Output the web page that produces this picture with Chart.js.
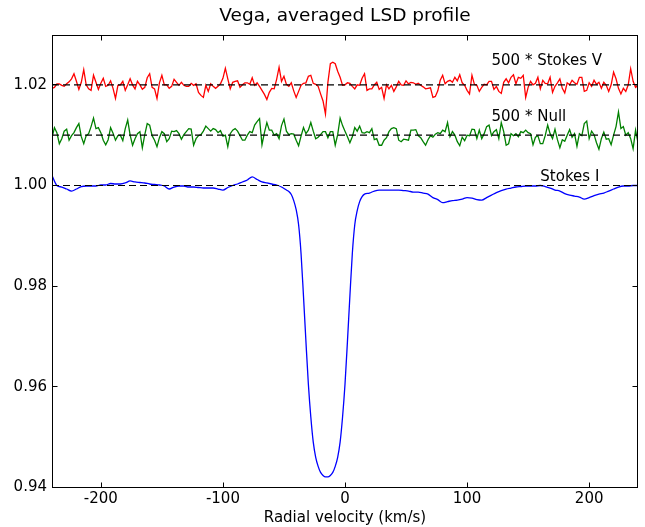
<!DOCTYPE html>
<html><head><meta charset="utf-8">
<script src="https://cdn.jsdelivr.net/npm/chart.js@4.4.0/dist/chart.umd.min.js"></script>
<style>html,body{margin:0;padding:0;background:#fff}canvas{display:block}</style>
</head><body>
<canvas id="c" width="645" height="527"></canvas>
<script>
// Radial velocity grid (km/s) for the polarimetric profiles
const velocity = [
-240,-238,-236,-234,-232,-230,-228,-226,-224,-222,
-220,-218,-216,-214,-212,-210,-208,-206,-204,-202,
-200,-198,-196,-194,-192,-190,-188,-186,-184,-182,
-180,-178,-176,-174,-172,-170,-168,-166,-164,-162,
-160,-158,-156,-154,-152,-150,-148,-146,-144,-142,
-140,-138,-136,-134,-132,-130,-128,-126,-124,-122,
-120,-118,-116,-114,-112,-110,-108,-106,-104,-102,
-100,-98,-96,-94,-92,-90,-88,-86,-84,-82,
-80,-78,-76,-74,-72,-70,-68,-66,-64,-62,
-60,-58,-56,-54,-52,-50,-48,-46,-44,-42,
-40,-38,-36,-34,-32,-30,-28,-26,-24,-22,
-20,-18,-16,-14,-12,-10,-8,-6,-4,-2,
0,2,4,6,8,10,12,14,16,18,
20,22,24,26,28,30,32,34,36,38,
40,42,44,46,48,50,52,54,56,58,
60,62,64,66,68,70,72,74,76,78,
80,82,84,86,88,90,92,94,96,98,
100,102,104,106,108,110,112,114,116,118,
120,122,124,126,128,130,132,134,136,138,
140,142,144,146,148,150,152,154,156,158,
160,162,164,166,168,170,172,174,176,178,
180,182,184,186,188,190,192,194,196,198,
200,202,204,206,208,210,212,214,216,218,
220,222,224,226,228,230,232,234,236,238,
240];

// 1.02 + 500 * Stokes V
const stokesV500 = [
1.0193,1.0195,1.0202,1.0202,1.0199,1.0197,1.0202,1.0206,1.0212,1.0222,
1.0207,1.0191,1.0205,1.0230,1.0200,1.0192,1.0189,1.0219,1.0205,1.0191,
1.0203,1.0213,1.0197,1.0199,1.0208,1.0193,1.0173,1.0199,1.0200,1.0207,
1.0189,1.0200,1.0212,1.0200,1.0192,1.0207,1.0200,1.0191,1.0195,1.0214,
1.0222,1.0195,1.0192,1.0173,1.0204,1.0219,1.0200,1.0200,1.0193,1.0197,
1.0211,1.0205,1.0199,1.0205,1.0199,1.0197,1.0197,1.0203,1.0199,1.0202,
1.0185,1.0179,1.0175,1.0199,1.0187,1.0202,1.0197,1.0193,1.0197,1.0202,
1.0213,1.0233,1.0212,1.0192,1.0205,1.0207,1.0208,1.0195,1.0200,1.0204,
1.0204,1.0201,1.0214,1.0199,1.0204,1.0197,1.0189,1.0181,1.0171,1.0185,
1.0193,1.0192,1.0211,1.0235,1.0207,1.0217,1.0201,1.0197,1.0204,1.0188,
1.0175,1.0187,1.0199,1.0203,1.0204,1.0217,1.0219,1.0203,1.0201,1.0197,
1.0182,1.0168,1.0142,1.0205,1.0242,1.0245,1.0242,1.0227,1.0215,1.0199,
1.0200,1.0204,1.0203,1.0197,1.0192,1.0200,1.0199,1.0213,1.0222,1.0189,
1.0192,1.0192,1.0200,1.0205,1.0191,1.0195,1.0173,1.0200,1.0192,1.0199,
1.0187,1.0196,1.0207,1.0200,1.0199,1.0208,1.0202,1.0205,1.0204,1.0201,
1.0203,1.0199,1.0196,1.0192,1.0193,1.0194,1.0175,1.0177,1.0188,1.0209,
1.0219,1.0202,1.0207,1.0209,1.0205,1.0215,1.0208,1.0220,1.0204,1.0199,
1.0189,1.0182,1.0219,1.0201,1.0199,1.0187,1.0195,1.0201,1.0200,1.0207,
1.0207,1.0191,1.0197,1.0187,1.0183,1.0205,1.0212,1.0204,1.0215,1.0220,
1.0202,1.0215,1.0213,1.0219,1.0175,1.0195,1.0207,1.0200,1.0203,1.0215,
1.0192,1.0209,1.0203,1.0202,1.0215,1.0185,1.0197,1.0204,1.0212,1.0193,
1.0184,1.0204,1.0200,1.0209,1.0204,1.0201,1.0215,1.0215,1.0187,1.0189,
1.0204,1.0197,1.0209,1.0201,1.0205,1.0193,1.0205,1.0199,1.0187,1.0200,
1.0225,1.0212,1.0193,1.0182,1.0193,1.0187,1.0200,1.0232,1.0207,1.0195,
1.0199];

// 1.01 + 500 * Null
const null500 = [
1.0095,1.0115,1.0105,1.0083,1.0093,1.0108,1.0112,1.0090,1.0099,1.0105,
1.0115,1.0123,1.0097,1.0083,1.0099,1.0103,1.0117,1.0134,1.0113,1.0115,
1.0105,1.0090,1.0081,1.0091,1.0115,1.0104,1.0090,1.0099,1.0100,1.0089,
1.0113,1.0130,1.0100,1.0080,1.0093,1.0103,1.0107,1.0075,1.0101,1.0123,
1.0120,1.0099,1.0090,1.0077,1.0095,1.0107,1.0103,1.0087,1.0093,1.0108,
1.0107,1.0109,1.0103,1.0092,1.0101,1.0107,1.0113,1.0112,1.0080,1.0093,
1.0099,1.0101,1.0108,1.0118,1.0113,1.0108,1.0113,1.0111,1.0105,1.0109,
1.0098,1.0100,1.0077,1.0103,1.0110,1.0113,1.0108,1.0099,1.0090,1.0090,
1.0100,1.0107,1.0105,1.0120,1.0127,1.0133,1.0081,1.0105,1.0125,1.0110,
1.0110,1.0100,1.0103,1.0093,1.0119,1.0132,1.0108,1.0101,1.0103,1.0102,
1.0090,1.0079,1.0098,1.0115,1.0103,1.0110,1.0125,1.0108,1.0093,1.0096,
1.0101,1.0107,1.0107,1.0095,1.0107,1.0107,1.0080,1.0101,1.0134,1.0119,
1.0108,1.0097,1.0085,1.0097,1.0115,1.0108,1.0118,1.0105,1.0104,1.0107,
1.0105,1.0113,1.0091,1.0093,1.0080,1.0080,1.0090,1.0095,1.0107,1.0113,
1.0115,1.0113,1.0090,1.0087,1.0092,1.0091,1.0090,1.0110,1.0110,1.0111,
1.0099,1.0095,1.0087,1.0080,1.0091,1.0099,1.0096,1.0102,1.0105,1.0103,
1.0110,1.0107,1.0125,1.0097,1.0107,1.0100,1.0087,1.0079,1.0096,1.0089,
1.0100,1.0099,1.0112,1.0111,1.0093,1.0110,1.0093,1.0103,1.0117,1.0120,
1.0099,1.0107,1.0111,1.0093,1.0125,1.0107,1.0080,1.0083,1.0103,1.0099,
1.0103,1.0097,1.0107,1.0105,1.0110,1.0105,1.0103,1.0081,1.0096,1.0099,
1.0083,1.0083,1.0099,1.0120,1.0103,1.0093,1.0112,1.0091,1.0075,1.0091,
1.0088,1.0100,1.0111,1.0096,1.0103,1.0078,1.0103,1.0099,1.0123,1.0128,
1.0093,1.0108,1.0101,1.0085,1.0072,1.0093,1.0106,1.0092,1.0093,1.0081,
1.0100,1.0117,1.0146,1.0113,1.0117,1.0100,1.0105,1.0093,1.0073,1.0110,
1.0085];

// Stokes I velocity grid (finer in the line core) and profile
const velocityI = [
-240,-236,-232,-228,-224,-220,-216,-212,-208,-204,
-200,-196,-192,-188,-184,-180,-176,-172,-168,-164,
-160,-156,-152,-148,-144,-140,-136,-132,-128,-124,
-120,-116,-112,-108,-104,-100,-96,-92,-88,-84,
-80,-76,-72,-68,-64,-60,-56,-52,-48,
-46,-44,-42,-40,-38,-36,-34,-32,-30,-28,
-26,-24,-22,-20,-18,-16,-14,-12,-10,-8,
-6,-4,-2,0,2,4,6,8,10,12,14,16,
20,24,28,32,36,40,44,48,52,56,
60,64,68,72,76,80,84,88,92,96,
100,104,108,112,116,120,124,128,132,136,
140,144,148,152,156,160,164,168,172,176,
180,184,188,192,196,200,204,208,212,216,
220,224,228,232,236,240];
const stokesI = [
1.0020,1.0000,0.9997,0.9993,0.9989,0.9993,0.9998,0.9999,0.9999,0.9999,
1.0001,1.0001,1.0004,1.0003,1.0003,1.0005,1.0009,1.0007,1.0006,1.0005,
1.0003,1.0002,1.0001,0.9999,0.9993,0.9997,0.9999,0.9999,0.9997,0.9997,
0.9996,0.9995,0.9995,0.9995,0.9993,0.9991,0.9996,1.0000,1.0003,1.0007,
1.0011,1.0017,1.0012,1.0007,1.0005,1.0003,1.0001,0.9997,0.9991,
0.9988,0.9982,0.9970,0.9952,0.9922,0.9865,0.9780,0.9690,0.9605,0.9540,
0.9490,0.9460,0.9442,0.9430,0.9424,0.9421,0.9421,0.9424,0.9430,0.9442,
0.9460,0.9490,0.9540,0.9605,0.9690,0.9780,0.9865,0.9922,0.9950,0.9968,0.9978,0.9983,
0.9985,0.9989,0.9991,0.9991,0.9991,0.9991,0.9991,0.9990,0.9989,0.9987,
0.9987,0.9985,0.9983,0.9976,0.9972,0.9966,0.9968,0.9970,0.9971,0.9973,
0.9976,0.9975,0.9972,0.9971,0.9976,0.9981,0.9986,0.9990,0.9993,0.9995,
0.9997,0.9998,0.9999,0.9999,0.9999,1.0000,0.9998,0.9995,0.9991,0.9989,
0.9984,0.9981,0.9979,0.9977,0.9973,0.9976,0.9980,0.9983,0.9985,0.9989,
0.9993,0.9997,0.9999,0.9999,1.0000,1.0000];

const referenceLevels = [1.02, 1.01, 1.00];
const velocityRange = [-240, 240];
const yRange = [0.94, 1.03];
const xTicks = [-200, -100, 0, 100, 200];
const yTicks = [0.94, 0.96, 0.98, 1.00, 1.02];
const chartTitle = 'Vega, averaged LSD profile';
const annotationTexts = ['500 * Stokes V', '500 * Null', 'Stokes I'];
const annotationX = [120, 120, 160];
const annotationY = [1.0247, 1.0136, 1.0017];

const FONT = '"DejaVu Sans", "Liberation Sans", sans-serif';

const toPoints = (xs, ys) => xs.map((v, i) => ({x: v, y: ys[i]}));

const datasets = [];
referenceLevels.forEach(level => {
  datasets.push({
    data: velocityRange.map(v => ({x: v, y: level})),
    borderColor: '#000000', borderWidth: 1.2, borderDash: [7, 4],
    pointRadius: 0, fill: false, order: 0
  });
});
datasets.push({data: toPoints(velocity, stokesV500), borderColor: '#ff0000', borderWidth: 1.3, pointRadius: 0, tension: 0, order: 1});
datasets.push({data: toPoints(velocity, null500), borderColor: '#008000', borderWidth: 1.3, pointRadius: 0, tension: 0, order: 1});
datasets.push({data: toPoints(velocityI, stokesI), borderColor: '#0000ff', borderWidth: 1.3, pointRadius: 0, cubicInterpolationMode: 'monotone', order: 1});

const framePlugin = {
  id: 'frame',
  afterDatasetsDraw(chart) {
    const {ctx, chartArea: a} = chart;
    const xs = chart.scales.x, ys = chart.scales.y;
    ctx.save();
    ctx.strokeStyle = '#000'; ctx.lineWidth = 1;
    const L = Math.round(a.left) + 0.5, R = Math.round(a.right) - 0.5;
    const T = Math.round(a.top) + 0.5, B = Math.round(a.bottom) - 0.5;
    ctx.strokeRect(L, T, R - L, B - T);
    ctx.beginPath();
    xTicks.forEach(v => {
      const px = Math.round(xs.getPixelForValue(v)) + 0.5;
      ctx.moveTo(px, B); ctx.lineTo(px, B - 5);
      ctx.moveTo(px, T); ctx.lineTo(px, T + 5);
    });
    yTicks.forEach(v => {
      const py = Math.floor(ys.getPixelForValue(v)) + 0.5;
      ctx.moveTo(L, py); ctx.lineTo(L + 5, py);
      ctx.moveTo(R, py); ctx.lineTo(R - 5, py);
    });
    ctx.stroke();
    ctx.fillStyle = '#000';
    ctx.font = '15px ' + FONT;
    ctx.textBaseline = 'middle'; ctx.textAlign = 'left';
    annotationTexts.forEach((t, i) => {
      ctx.fillText(t, xs.getPixelForValue(annotationX[i]), ys.getPixelForValue(annotationY[i]));
    });
    ctx.font = '18.5px ' + FONT;
    ctx.textAlign = 'center';
    ctx.fillText(chartTitle, (a.left + a.right) / 2, 16);
    ctx.restore();
  }
};

new Chart(document.getElementById('c'), {
  type: 'line',
  data: {datasets},
  options: {
    responsive: false, animation: false, devicePixelRatio: 1,
    layout: {padding: {left: 0, right: 7, top: 34.5, bottom: 0}},
    plugins: {legend: {display: false}, tooltip: {enabled: false}, title: {display: false}},
    scales: {
      x: {
        type: 'linear', min: velocityRange[0], max: velocityRange[1],
        afterBuildTicks: s => { s.ticks = xTicks.map(v => ({value: v})); },
        afterFit: s => { s.height = 39.5; },
        grid: {display: false, drawTicks: false}, border: {display: false},
        ticks: {padding: 3, color: '#000', font: {family: FONT, size: 15}, maxRotation: 0, autoSkip: false},
        title: {display: true, text: 'Radial velocity (km/s)', color: '#000', font: {family: FONT, size: 15}, padding: {top: 0, bottom: 0}}
      },
      y: {
        type: 'linear', min: yRange[0], max: yRange[1],
        afterBuildTicks: s => { s.ticks = yTicks.map(v => ({value: v})); },
        afterFit: s => { s.width = 52; },
        grid: {display: false, drawTicks: false}, border: {display: false},
        ticks: {padding: 5, color: '#000', font: {family: FONT, size: 15}, callback: v => Number(v).toFixed(2)}
      }
    }
  },
  plugins: [framePlugin]
});
</script>
</body></html>
